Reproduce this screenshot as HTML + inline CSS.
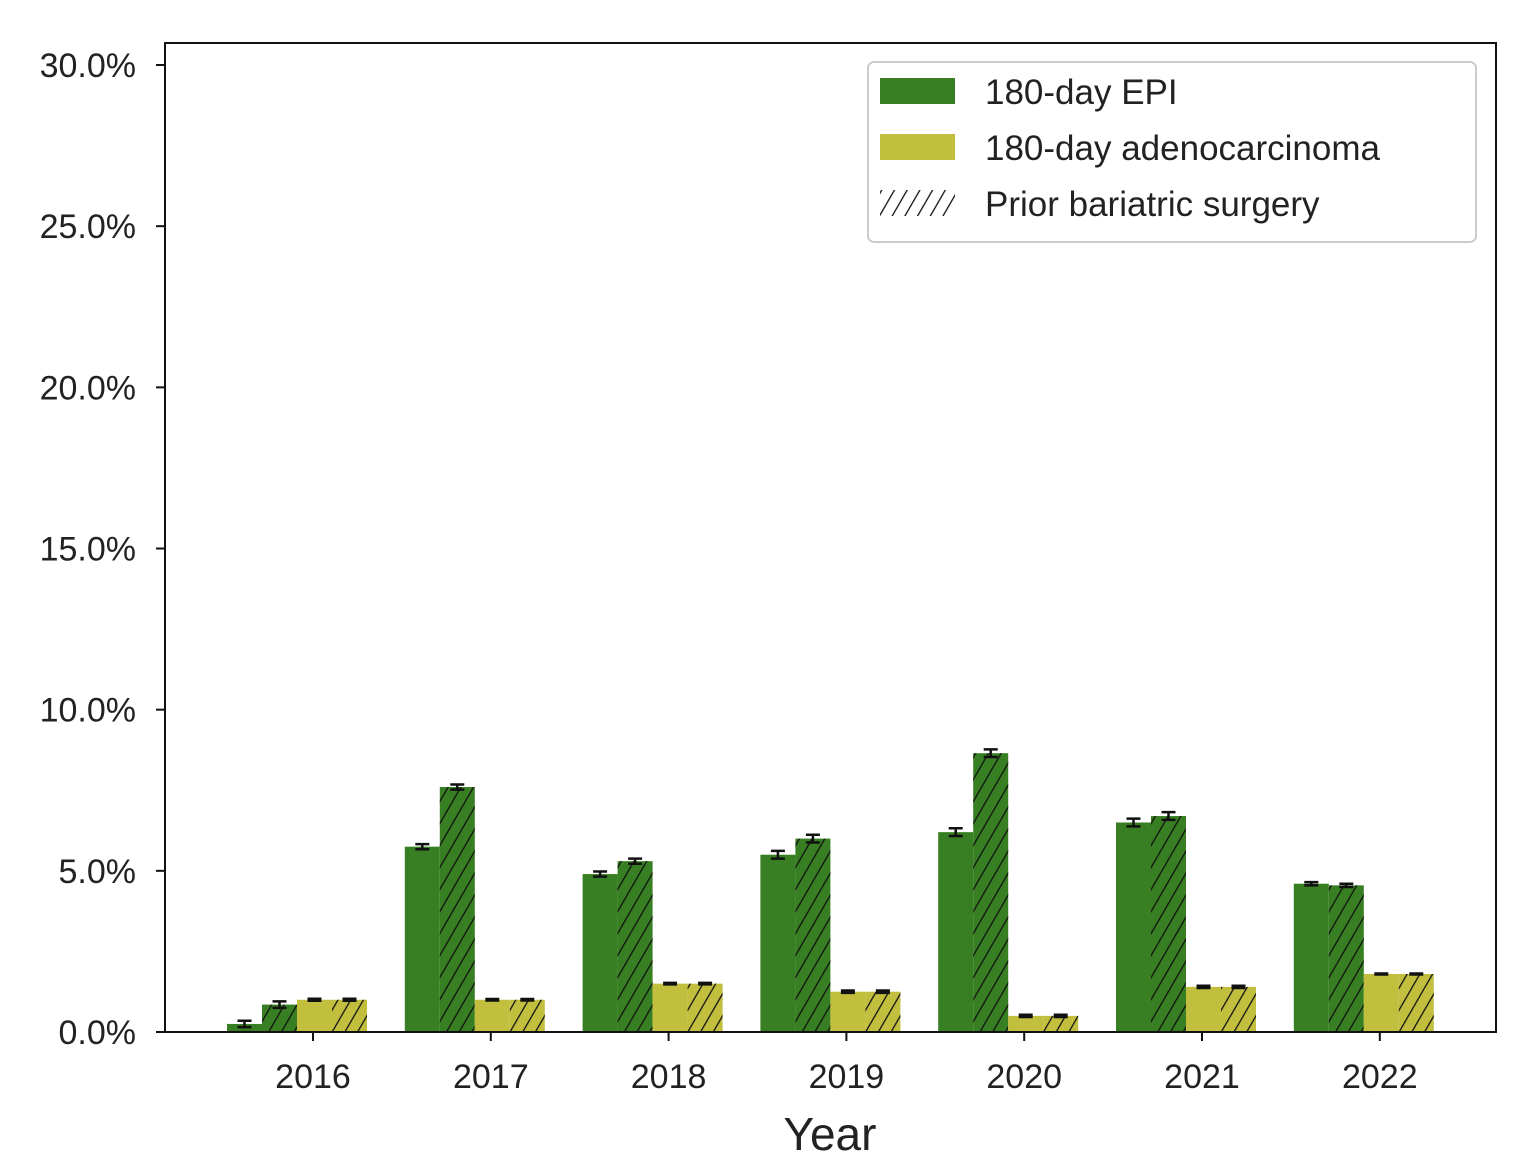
<!DOCTYPE html>
<html><head><meta charset="utf-8"><style>
body{margin:0;background:#fff;}
svg text{font-family:"Liberation Sans","DejaVu Sans",sans-serif;fill:#222;}
</style></head><body>
<svg width="1522" height="1152" viewBox="0 0 1522 1152" xmlns="http://www.w3.org/2000/svg">
<defs>
<pattern id="hatch" patternUnits="userSpaceOnUse" width="11" height="11" patternTransform="rotate(30)">
<line x1="0" y1="0" x2="0" y2="11" stroke="#111" stroke-width="2.6"/>
</pattern>
</defs>
<g id="plot"></g>
<rect x="165" y="43" width="1331" height="989" fill="none" stroke="#111" stroke-width="2"/>
<text x="830" y="1150" font-size="46" text-anchor="middle">Year</text>
<g>
<rect x="868" y="62" width="608" height="180" rx="6" fill="#fff" stroke="#ccc" stroke-width="2"/>
<rect x="880" y="78" width="75" height="26" fill="#377f22"/>
<text x="985" y="104" font-size="35">180-day EPI</text>
<rect x="880" y="134" width="75" height="26" fill="#c2bf3e"/>
<text x="985" y="160" font-size="35">180-day adenocarcinoma</text>
<rect x="880" y="190" width="75" height="26" fill="url(#hatch)"/>
<text x="985" y="216" font-size="35">Prior bariatric surgery</text>
</g>
</svg>
<script>
const years=["2016","2017","2018","2019","2020","2021","2022"];
const epi=[0.25,5.75,4.9,5.5,6.2,6.5,4.6];
const epiBariatric=[0.85,7.6,5.3,6.0,8.65,6.7,4.55];
const adeno=[1.0,1.0,1.5,1.25,0.5,1.4,1.8];
const adenoBariatric=[1.0,1.0,1.5,1.25,0.5,1.4,1.8];
const yTicks=[0,5,10,15,20,25,30];
const errs=[0.1,0.08,0.08,0.12,0.12,0.12,0.05];

const NS="http://www.w3.org/2000/svg";
const g=document.getElementById('plot');
const y0=1032,yTop=65;
function y(v){return y0-(v/30)*(y0-yTop);}
function xTick(i){return 313+i*177.8;}
const bw=35;
function mk(tag,attrs){const e=document.createElementNS(NS,tag);for(const k in attrs)e.setAttribute(k,attrs[k]);g.appendChild(e);return e;}
yTicks.forEach(t=>{
  const l=mk('line',{x1:156,x2:165,y1:y(t),y2:y(t),stroke:'#111','stroke-width':2});
  
  
  const tx=mk('text',{x:136,y:y(t)+12,'font-size':34,'text-anchor':'end'});
  tx.textContent=t.toFixed(1)+'%';
  
  
});
const series=[[epi,'#377f22',false],[epiBariatric,'#377f22',true],[adeno,'#c2bf3e',false],[adenoBariatric,'#c2bf3e',true]];
years.forEach((yr,i)=>{
  const xc=xTick(i);
  const start=xc-86;
  series.forEach((s,j)=>{
    const v=s[0][i];const x=start+j*bw;
    const r=mk('rect',{x:x,y:y(v),width:bw,height:y0-y(v),fill:s[1]});
    
    
    if(s[2]){const h=mk('rect',{x:x,y:y(v),width:bw,height:y0-y(v),fill:'url(#hatch)'});
      
      }
    const e=errs[i]*(j<2?1:0.3);const cx=x+bw/2;
    const eb=mk('path',{d:`M${cx},${y(v+e)}V${y(v-e)}M${cx-7},${y(v+e)}H${cx+7}M${cx-7},${y(v-e)}H${cx+7}`,stroke:'#111','stroke-width':2.5,fill:'none'});
    
    
  });
  const tk=mk('line',{x1:xc,x2:xc,y1:y0,y2:y0+9,stroke:'#111','stroke-width':2});
  
  
  const tl=mk('text',{x:xc,y:1088,'font-size':34,'text-anchor':'middle'});
  tl.textContent=yr;
  
  
});
</script>
</body></html>
